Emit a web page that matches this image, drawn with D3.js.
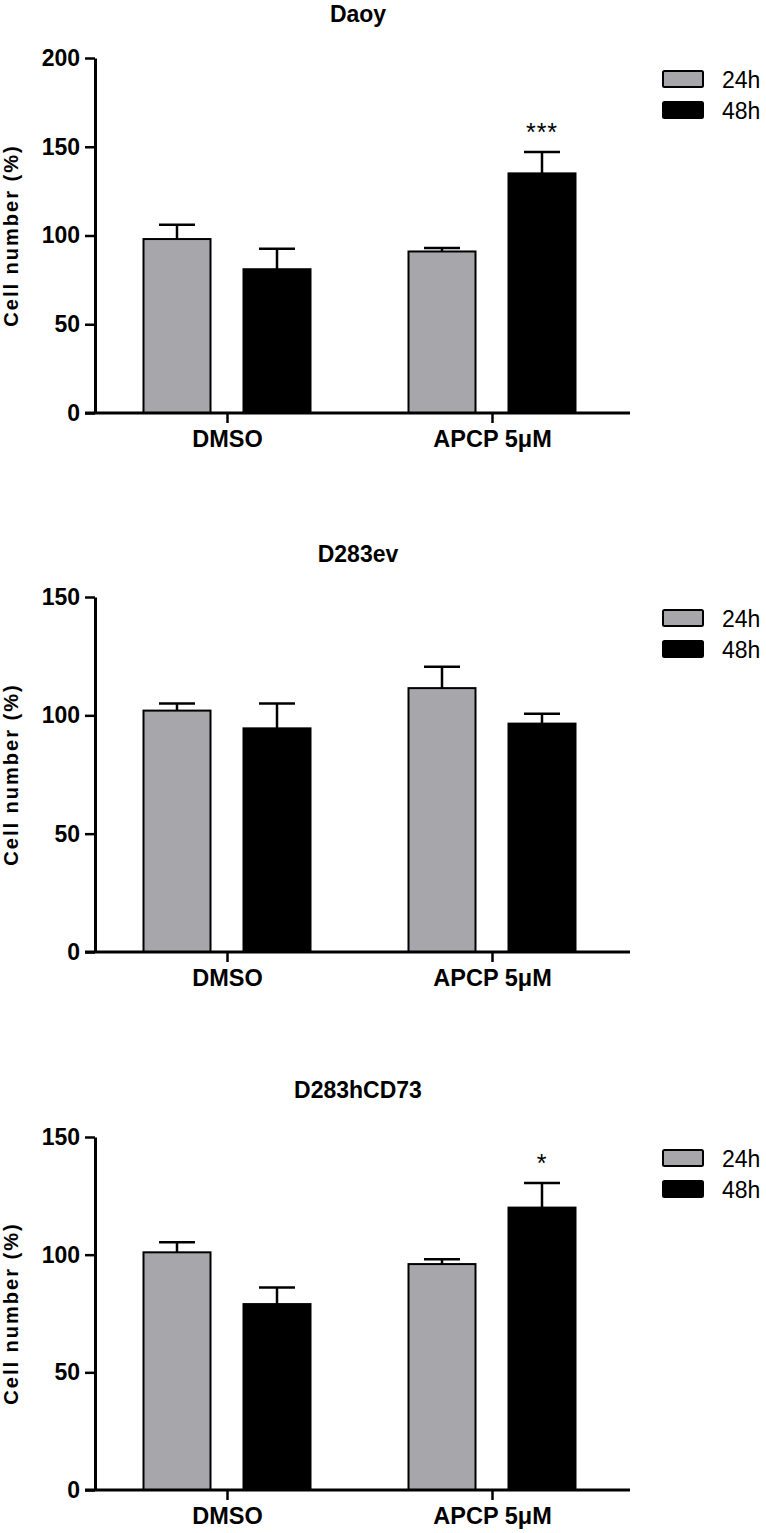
<!DOCTYPE html>
<html>
<head>
<meta charset="utf-8">
<script src="https://cdn.jsdelivr.net/npm/d3@7"></script>
<style>
  body { margin: 0; background: #fff; }
  svg { display: block; }
  text { font-family: "Liberation Sans", Arial, sans-serif; fill: #000; }
</style>
</head>
<body>
<script>
const width = 766, height = 1533;

// data
const groups = ["DMSO", "APCP 5μM"];
const series = ["24h", "48h"];
const seriesFill = ["#a7a6ab", "#000000"];

const titles = ["Daoy", "D283ev", "D283hCD73"];
const yMaxes = [200, 150, 150];
const yTicks = [[0, 50, 100, 150, 200], [0, 50, 100, 150], [0, 50, 100, 150]];

// mean values [group][series]
const daoyMean = [[98, 81], [91, 135]];
const daoyErr  = [[8, 11.5], [2, 12]];
const d283evMean = [[102, 94.5], [111.5, 96.5]];
const d283evErr  = [[3, 10.5], [9, 4.2]];
const d283hMean = [[101, 79], [96, 120]];
const d283hErr  = [[4.3, 7], [2, 10.5]];

// significance labels [group][series]
const daoySig = [["", ""], ["", "***"]];
const d283evSig = [["", ""], ["", ""]];
const d283hSig = [["", ""], ["", "*"]];

const panels = [
  { title: titles[0], max: yMaxes[0], ticks: yTicks[0], mean: daoyMean, err: daoyErr, sig: daoySig, top: 58, bottom: 413, titleY: 22 },
  { title: titles[1], max: yMaxes[1], ticks: yTicks[1], mean: d283evMean, err: d283evErr, sig: d283evSig, top: 597, bottom: 952, titleY: 562 },
  { title: titles[2], max: yMaxes[2], ticks: yTicks[2], mean: d283hMean, err: d283hErr, sig: d283hSig, top: 1137, bottom: 1490, titleY: 1098 }
];

const svg = d3.select("body").append("svg")
  .attr("width", width).attr("height", height);

const axisX0 = 95, axisX1 = 625;

const x = d3.scaleBand().domain(groups).range([axisX0, axisX1]);
const xSub = d3.scaleBand().domain(series).range([-100, 100]);
const barW = 67;

function drawPanel(p) {
  const g = svg.append("g");
  const y = d3.scaleLinear().domain([0, p.max]).range([p.bottom, p.top]);

  // title
  g.append("text")
    .attr("x", 358).attr("y", p.titleY)
    .attr("text-anchor", "middle")
    .attr("font-size", 23).attr("font-weight", "bold")
    .text(p.title);

  // bars
  groups.forEach((grp, gi) => {
    series.forEach((s, si) => {
      const cx = x(grp) + x.bandwidth() / 2 + xSub(s) + xSub.bandwidth() / 2 - 0.5;
      const v = p.mean[gi][si];
      const e = p.err[gi][si];
      // error bar (upper only)
      g.append("line")
        .attr("x1", cx).attr("x2", cx)
        .attr("y1", y(v)).attr("y2", y(v + e))
        .attr("stroke", "#000").attr("stroke-width", 2.5);
      g.append("line")
        .attr("x1", cx - 18).attr("x2", cx + 18)
        .attr("y1", y(v + e)).attr("y2", y(v + e))
        .attr("stroke", "#000").attr("stroke-width", 2.5);
      g.append("rect")
        .attr("x", cx - barW / 2).attr("y", y(v))
        .attr("width", barW).attr("height", y(0) - y(v))
        .attr("fill", seriesFill[si])
        .attr("stroke", "#000").attr("stroke-width", 2);
      if (p.sig[gi][si]) {
        g.append("text")
          .attr("x", cx).attr("y", y(v + e) - 11)
          .attr("text-anchor", "middle")
          .attr("font-size", 25)
          .attr("letter-spacing", 1)
          .text(p.sig[gi][si]);
      }
    });
  });

  // y axis
  const yAxis = g.append("g")
    .attr("transform", "translate(" + axisX0 + ",0)")
    .call(d3.axisLeft(y).tickValues(p.ticks).tickSize(10).tickSizeOuter(0).tickPadding(5));
  yAxis.select(".domain").attr("stroke-width", 3);
  yAxis.selectAll(".tick line").attr("stroke-width", 2.5);
  yAxis.selectAll(".tick text")
    .attr("font-size", 23).attr("font-weight", "bold");

  // x axis
  const xAxis = g.append("g")
    .attr("transform", "translate(0," + p.bottom + ")")
    .call(d3.axisBottom(x).tickSize(10).tickSizeOuter(0).tickPadding(7));
  xAxis.select(".domain").remove();
  xAxis.append("line")
    .attr("x1", axisX0 - 10).attr("x2", axisX1 + 5)
    .attr("stroke", "#000").attr("stroke-width", 3);
  xAxis.selectAll(".tick line").attr("stroke-width", 2.5);
  xAxis.selectAll(".tick text")
    .attr("font-size", 23.5).attr("font-weight", "bold");

  // y label
  g.append("text")
    .attr("transform", "translate(18," + (p.top + p.bottom) / 2 + ") rotate(-90)")
    .attr("text-anchor", "middle")
    .attr("font-size", 20).attr("font-weight", "bold")
    .attr("letter-spacing", 2)
    .text("Cell number (%)");

  // legend
  series.forEach((s, si) => {
    const ly = p.top + 13 + si * 31;
    g.append("rect")
      .attr("x", 663).attr("y", ly).attr("width", 40).attr("height", 16)
      .attr("fill", seriesFill[si]).attr("stroke", "#000").attr("stroke-width", 2)
      .attr("rx", 1.5);
    g.append("text")
      .attr("x", 722).attr("y", ly + 17)
      .attr("font-size", 23)
      .text(s);
  });
}

panels.forEach(drawPanel);
</script>
</body>
</html>
